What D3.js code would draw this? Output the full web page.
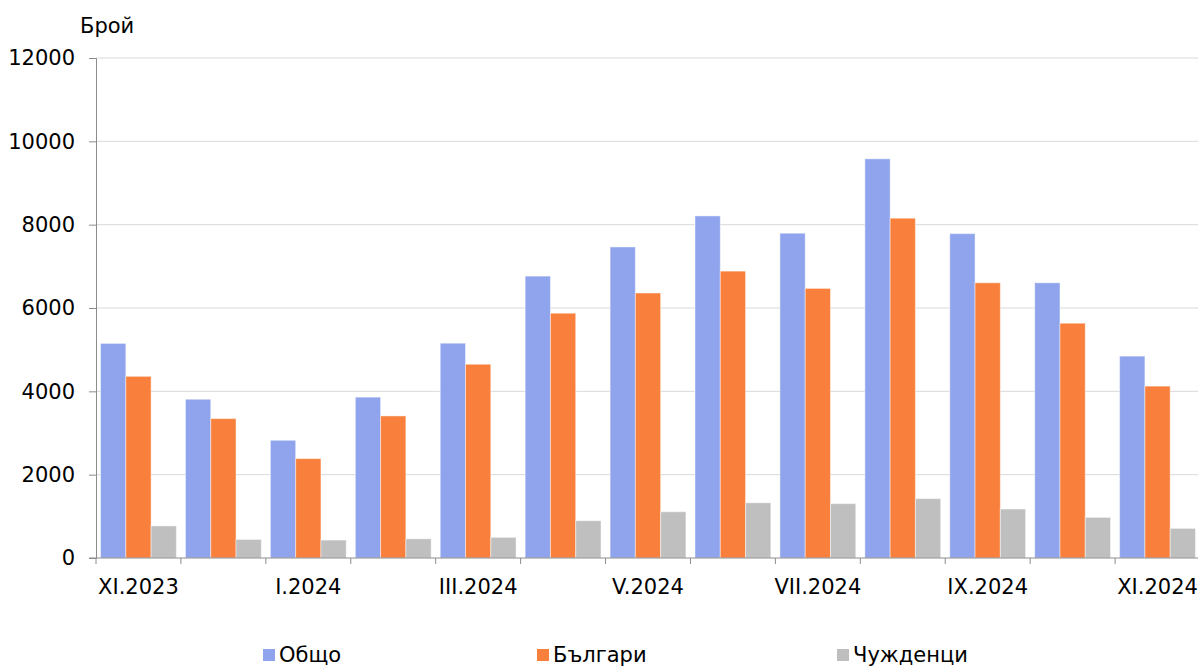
<!DOCTYPE html>
<html>
<head>
<meta charset="utf-8">
<script src="https://cdn.jsdelivr.net/npm/d3@7"></script>
<style>
	body { margin: 0; background: #fff; }
	svg { display: block; font-family: "DejaVu Sans", Verdana, sans-serif; }
</style>
</head>
<body>
<div id="chart"></div>
<script>
var months = ["XI.2023", "XII.2023", "I.2024", "II.2024", "III.2024", "IV.2024", "V.2024",
	"VI.2024", "VII.2024", "VIII.2024", "IX.2024", "X.2024", "XI.2024"];
var total = [5150, 3810, 2825, 3860, 5155, 6765, 7465, 8210, 7795, 9580, 7785, 6605, 4845];
var bulgarians = [4360, 3345, 2385, 3410, 4650, 5875, 6360, 6885, 6470, 8155, 6605, 5635, 4125];
var foreigners = [770, 445, 430, 460, 495, 895, 1110, 1325, 1305, 1425, 1175, 975, 710];
var seriesNames = ["Общо", "Българи", "Чужденци"];
var seriesColors = ["#8fa4ec", "#f8803c", "#bfbfbf"];
var yTicks = [0, 2000, 4000, 6000, 8000, 10000, 12000];

var width = 1198, height = 666;
var margin = {top: 58, right: 0, bottom: 108, left: 96};
var fontSize = 21;

var svg = d3.select("#chart").append("svg")
	.attr("width", width)
	.attr("height", height);

var x = d3.scaleBand()
	.domain(months)
	.range([margin.left, 1200])
	.padding(0);

var inner = d3.scaleBand()
	.domain(seriesNames)
	.range([0, x.bandwidth()])
	.paddingOuter(0.18)
	.paddingInner(0);

var y = d3.scaleLinear()
	.domain([0, 12000])
	.range([height - margin.bottom, margin.top]);

// gridlines
svg.append("g")
	.selectAll("line")
	.data(yTicks.slice(1))
	.enter()
	.append("line")
	.attr("x1", margin.left)
	.attr("x2", width)
	.attr("y1", d => y(d))
	.attr("y2", d => y(d))
	.attr("stroke", "#d9d9d9")
	.attr("stroke-width", 1);

// bars
var seriesData = [total, bulgarians, foreigners];
var groups = svg.append("g")
	.selectAll("g")
	.data(months)
	.enter()
	.append("g")
	.attr("transform", d => `translate(${x(d)},0)`);

groups.selectAll("rect")
	.data((d, i) => seriesNames.map((name, s) => ({name: name, value: seriesData[s][i], color: seriesColors[s]})))
	.enter()
	.append("rect")
	.attr("x", d => inner(d.name))
	.attr("width", inner.bandwidth())
	.attr("y", d => y(d.value))
	.attr("height", d => y(0) - y(d.value))
	.attr("fill", d => d.color)
	.attr("stroke", "#ffffff")
	.attr("stroke-opacity", 0.45)
	.attr("stroke-width", 1);

// y axis
var yAxis = svg.append("g")
	.attr("transform", `translate(${margin.left},0)`)
	.call(d3.axisLeft(y).tickValues(yTicks).tickSize(7).tickPadding(14).tickFormat(d3.format("d")));
yAxis.select(".domain").attr("stroke", "#8c8c8c");
yAxis.selectAll(".tick line").attr("stroke", "#8c8c8c");
yAxis.selectAll("text")
	.attr("font-size", fontSize)
	.attr("font-family", "DejaVu Sans, Verdana, sans-serif")
	.attr("fill", "#000");

// x axis line and ticks at band boundaries
var xAxisG = svg.append("g");
xAxisG.append("line")
	.attr("x1", margin.left - 7)
	.attr("x2", width)
	.attr("y1", y(0))
	.attr("y2", y(0))
	.attr("stroke", "#8c8c8c");
xAxisG.selectAll(".xtick")
	.data(months)
	.enter()
	.append("line")
	.attr("x1", d => x(d))
	.attr("x2", d => x(d))
	.attr("y1", y(0))
	.attr("y2", y(0) + 6)
	.attr("stroke", "#8c8c8c");
xAxisG.selectAll("text")
	.data(months.filter((d, i) => i % 2 === 0))
	.enter()
	.append("text")
	.attr("x", d => x(d) + x.bandwidth() / 2)
	.attr("y", 594)
	.attr("text-anchor", "middle")
	.attr("font-size", fontSize)
	.attr("fill", "#000")
	.text(d => d);

// y title
svg.append("text")
	.attr("x", 80)
	.attr("y", 33)
	.attr("font-size", fontSize)
	.attr("fill", "#000")
	.text("Брой");

// legend
var legendX = [263, 537, 837];
var legend = svg.append("g")
	.selectAll("g")
	.data(seriesNames)
	.enter()
	.append("g")
	.attr("transform", (d, i) => `translate(${legendX[i]},0)`);
legend.append("rect")
	.attr("x", 0)
	.attr("y", 649)
	.attr("width", 12)
	.attr("height", 12)
	.attr("fill", (d, i) => seriesColors[i]);
legend.append("text")
	.attr("x", 16)
	.attr("y", 662)
	.attr("font-size", fontSize)
	.attr("fill", "#000")
	.text(d => d);
</script>
</body>
</html>
